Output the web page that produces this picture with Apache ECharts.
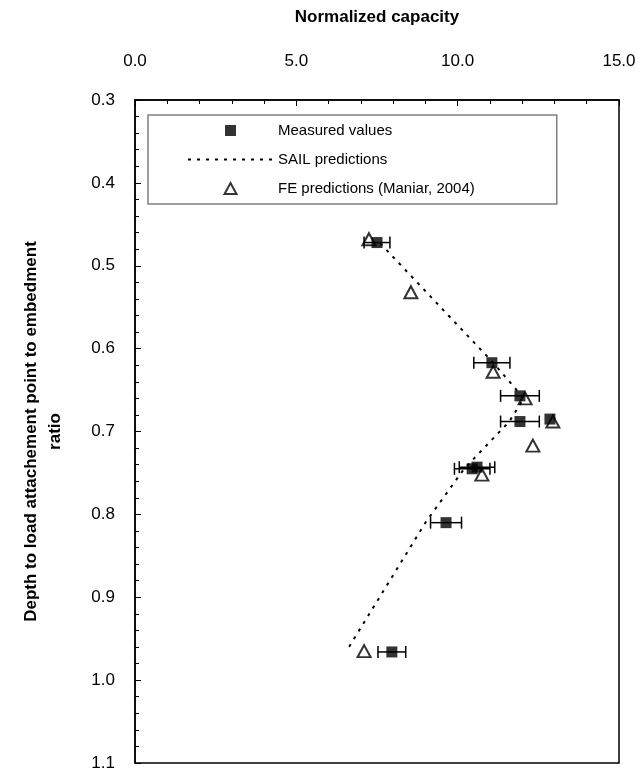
<!DOCTYPE html>
<html><head><meta charset="utf-8">
<script src="https://cdn.jsdelivr.net/npm/echarts@6/dist/echarts.min.js"></script>
<style>html,body{margin:0;padding:0;background:#fff}#c{width:643px;height:775px}</style>
</head><body><div id="c"></div>
<script>
// Measured values: [capacity, depth ratio]
var measuredX = [7.5, 11.06, 11.93, 11.93, 12.86, 10.45, 10.6, 9.64, 7.96];
var measuredY = [0.472, 0.617, 0.657, 0.688, 0.685, 0.745, 0.743, 0.81, 0.966];
var measuredErr = [0.40, 0.56, 0.60, 0.60, 0, 0.55, 0.55, 0.48, 0.43];
// SAIL predictions
var sailX = [7.6, 11.1, 12.05, 11.6, 10.2, 9.0, 6.6];
var sailY = [0.473, 0.617, 0.66, 0.688, 0.745, 0.81, 0.962];
// FE predictions (Maniar, 2004)
var feX = [7.25, 8.55, 11.1, 12.09, 12.95, 12.33, 10.75, 7.1];
var feY = [0.468, 0.532, 0.628, 0.66, 0.688, 0.717, 0.752, 0.965];

var xTicks = [0, 5, 10, 15];
var yTicks = [0.3, 0.4, 0.5, 0.6, 0.7, 0.8, 0.9, 1.0, 1.1];

function zip(a, b) { return a.map(function (v, i) { return [v, b[i]]; }); }
var errData = measuredX.map(function (x, i) { return [x - measuredErr[i], x + measuredErr[i], measuredY[i]]; })
  .filter(function (d) { return d[1] > d[0]; });

var chart = echarts.init(document.getElementById('c'));
var font = 'Liberation Sans, Arial, sans-serif';
chart.setOption({
  animation: false,
  backgroundColor: '#fff',
  grid: { left: 135, top: 100, right: 24, bottom: 12, show: true, borderColor: '#000', borderWidth: 1.5, backgroundColor: 'transparent' },
  legend: {
    orient: 'vertical', left: 148, top: 115,
    padding: [8, 82, 8, 39],
    borderColor: '#808080', borderWidth: 1.5,
    itemWidth: 85, itemHeight: 11, itemGap: 14,
    symbolKeepAspect: true,
    textStyle: { fontFamily: font, fontSize: 15, color: '#000' },
    data: [
      { name: 'Measured values', icon: 'path://M0,0L10,0L10,10L0,10Z' },
      { name: 'SAIL predictions', itemStyle: { color: 'rgba(0,0,0,0)', borderWidth: 0 } },
      { name: 'FE predictions (Maniar, 2004)', icon: 'path://M6,0L12,11L0,11Z' }
    ]
  },
  xAxis: {
    type: 'value', position: 'top', min: xTicks[0], max: xTicks[xTicks.length - 1], interval: 5,
    name: 'Normalized capacity', nameLocation: 'middle', nameGap: 74,
    nameTextStyle: { fontFamily: font, fontSize: 17, fontWeight: 'bold', color: '#000' },
    axisLine: { show: true, lineStyle: { color: '#000', width: 1.5 } },
    axisTick: { show: true, inside: true, length: 6, lineStyle: { color: '#000' } },
    minorTick: { show: true, splitNumber: 5, length: 4, lineStyle: { color: '#000' } },
    axisLabel: { margin: 30, fontFamily: font, fontSize: 17, color: '#000', formatter: function (v) { return v.toFixed(1); } },
    splitLine: { show: false }
  },
  yAxis: {
    type: 'value', inverse: true, min: yTicks[0], max: yTicks[yTicks.length - 1], interval: 0.1,
    name: 'Depth to load attachement point to embedment\nratio', nameLocation: 'middle', nameGap: 68,
    nameTextStyle: { fontFamily: font, fontSize: 17, fontWeight: 'bold', color: '#000', lineHeight: 24 },
    axisLine: { show: true, lineStyle: { color: '#000', width: 1.5 } },
    axisTick: { show: true, inside: true, length: 6, lineStyle: { color: '#000' } },
    minorTick: { show: true, splitNumber: 5, length: 4, lineStyle: { color: '#000' } },
    axisLabel: { margin: 20, fontFamily: font, fontSize: 17, color: '#000', formatter: function (v) { return v.toFixed(1); } },
    splitLine: { show: false }
  },
  series: [
    {
      name: 'SAIL predictions', type: 'line', data: zip(sailX, sailY), symbol: 'none', z: 2,
      lineStyle: { color: '#000', width: 2, type: [3, 6] }, itemStyle: { color: '#000' }
    },
    {
      name: 'errbars', type: 'custom', data: errData, z: 3,
      renderItem: function (params, api) {
        var a = api.coord([api.value(0), api.value(2)]);
        var b = api.coord([api.value(1), api.value(2)]);
        var h = 6;
        var st = { stroke: '#000', lineWidth: 1.5 };
        return { type: 'group', children: [
          { type: 'line', shape: { x1: a[0], y1: a[1], x2: b[0], y2: b[1] }, style: st },
          { type: 'line', shape: { x1: a[0], y1: a[1] - h, x2: a[0], y2: a[1] + h }, style: st },
          { type: 'line', shape: { x1: b[0], y1: b[1] - h, x2: b[0], y2: b[1] + h }, style: st }
        ] };
      }
    },
    {
      name: 'Measured values', type: 'scatter', data: zip(measuredX, measuredY), symbol: 'rect', symbolSize: 11, z: 4,
      itemStyle: { color: '#000' }
    },
    {
      name: 'FE predictions (Maniar, 2004)', type: 'scatter', data: zip(feX, feY), symbol: 'triangle', symbolSize: [13, 12], z: 5,
      itemStyle: { color: 'rgba(255,255,255,0)', borderColor: '#000', borderWidth: 2 }
    }
  ]
});
</script></body></html>
